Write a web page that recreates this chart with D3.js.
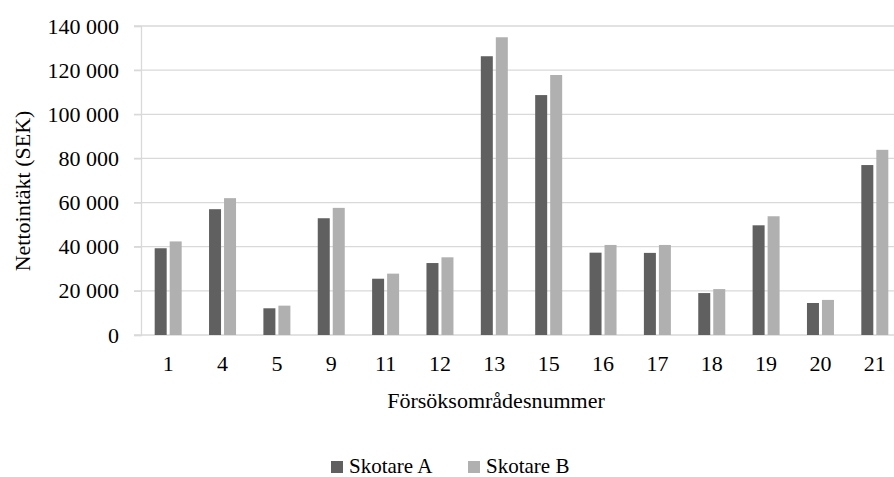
<html>
<head>
    <style>
    body { margin: 0; background: #fff; }
    .grid line { stroke: #d9d9d9; stroke-width: 1.3; }
    </style>
    <script src="https://cdn.jsdelivr.net/npm/d3@7"></script>
</head>
<body>
    <svg id="container" width="894" height="477"></svg>
</body>
<script>
    // data
    let categories = ["1", "4", "5", "9", "11", "12", "13", "15", "16", "17", "18", "19", "20", "21"]
    let skotareA = [39300, 57000, 12100, 52900, 25500, 32600, 126300, 108700, 37300, 37200, 19000, 49700, 14500, 77000]
    let skotareB = [42400, 62000, 13300, 57600, 27800, 35200, 134900, 117800, 40800, 40800, 20800, 53800, 15900, 83900]
    let seriesNames = ["Skotare A", "Skotare B"]
    let seriesColors = ["#606060", "#b0b0b0"]
    let yTicks = [0, 20000, 40000, 60000, 80000, 100000, 120000, 140000]

    let svg = d3.select("#container")
    let plotLeft = 141, plotRight = 902, plotTop = 26, plotBottom = 335
    let serif = "Liberation Serif, Tinos, DejaVu Serif, Times New Roman, Times, serif"

    let sv = d3.formatLocale({decimal: ",", thousands: " ", grouping: [3], currency: ["", " kr"]})
    let fmt = sv.format(",")

    let xScale = d3.scaleBand().domain(categories).range([plotLeft, plotRight])
    let xSub = d3.scaleBand().domain(seriesNames).range([0, 27]).paddingInner(0.2)
    let yScale = d3.scaleLinear().domain([0, 140000]).range([plotBottom, plotTop])

    // gridlines
    svg.append("g")
        .attr("class", "grid")
        .selectAll("line")
        .data(yTicks)
        .join("line")
        .attr("x1", plotLeft - 7).attr("x2", 894)
        .attr("y1", d => yScale(d)).attr("y2", d => yScale(d))

    // y axis
    let yAxis = svg.append("g")
        .attr("transform", "translate(" + plotLeft + ",0)")
        .call(d3.axisLeft(yScale).tickValues(yTicks).tickFormat(fmt).tickSize(7).tickPadding(15))
    yAxis.attr("font-family", serif).attr("font-size", 22)
    yAxis.select(".domain").attr("stroke", "#d9d9d9").attr("stroke-width", 1.3)
    yAxis.selectAll(".tick line").attr("stroke", "#d9d9d9").attr("stroke-width", 1.3)

    // bars
    let series = [skotareA, skotareB]
    let groupOffset = (xScale.bandwidth() - 27) / 2
    series.forEach((vals, si) => {
        svg.append("g")
            .selectAll("rect")
            .data(vals)
            .join("rect")
            .attr("x", (d, i) => xScale(categories[i]) + groupOffset + xSub(seriesNames[si]))
            .attr("width", xSub.bandwidth())
            .attr("y", d => yScale(d))
            .attr("height", d => plotBottom - yScale(d))
            .attr("fill", seriesColors[si])
    })

    // x axis
    let xAxis = svg.append("g")
        .attr("transform", "translate(0," + plotBottom + ")")
        .call(d3.axisBottom(xScale).tickSize(0).tickPadding(20))
    xAxis.attr("font-family", serif).attr("font-size", 22)
    xAxis.select(".domain").remove()

    // titles
    svg.append("text")
        .attr("x", 496).attr("y", 408)
        .attr("text-anchor", "middle")
        .attr("font-family", serif).attr("font-size", 22)
        .text("Försöksområdesnummer")

    svg.append("text")
        .attr("transform", "translate(30,191) rotate(-90)")
        .attr("text-anchor", "middle")
        .attr("font-family", serif).attr("font-size", 22)
        .text("Nettointäkt (SEK)")

    // legend
    let legendX = [331, 468]
    seriesNames.forEach((name, i) => {
        svg.append("rect")
            .attr("x", legendX[i]).attr("y", 461)
            .attr("width", 12).attr("height", 12)
            .attr("fill", seriesColors[i])
        svg.append("text")
            .attr("x", legendX[i] + 18).attr("y", 473)
            .attr("font-family", serif).attr("font-size", 21)
            .text(name)
    })
</script>
</html>
